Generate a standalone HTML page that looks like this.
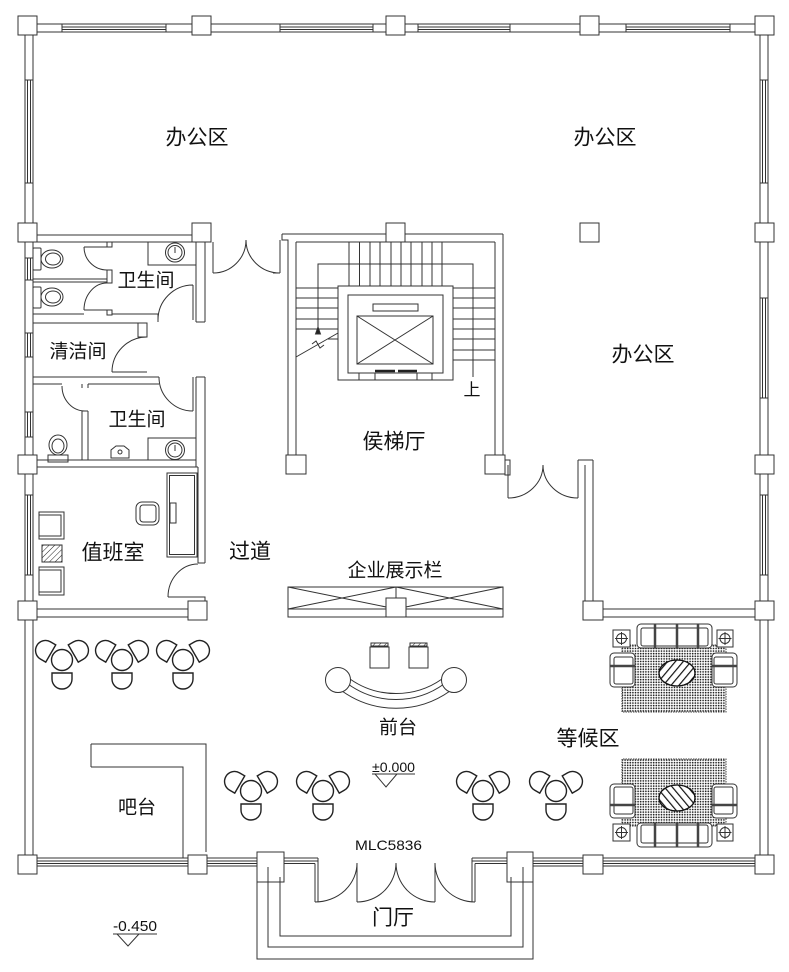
<!DOCTYPE html>
<html><head><meta charset="utf-8">
<style>
html,body{margin:0;padding:0;background:#fff;}
svg{display:block;}
text{font-family:"Liberation Sans","Noto Sans CJK SC",sans-serif;fill:#111;}
.cn{text-anchor:middle;dominant-baseline:central;}
</style></head><body>
<svg width="789" height="972" viewBox="0 0 789 972" xmlns="http://www.w3.org/2000/svg" xmlns:xlink="http://www.w3.org/1999/xlink">
<defs>
<pattern id="dots" width="2.6" height="2.6" patternUnits="userSpaceOnUse"><circle cx="1.1" cy="1.1" r="0.85" fill="#222"/></pattern>
<pattern id="hatch" width="6" height="6" patternUnits="userSpaceOnUse" patternTransform="rotate(40)"><line x1="0" y1="0" x2="0" y2="6" stroke="#111" stroke-width="2.4"/></pattern>
<pattern id="hatch2" width="4" height="4" patternUnits="userSpaceOnUse" patternTransform="rotate(45)"><line x1="0" y1="0" x2="0" y2="4" stroke="#222" stroke-width="1"/></pattern>
<g id="ch"><path d="M-10 13 H10 V19 A10 10 0 0 1 -10 19 Z" fill="#fff" stroke="#222" stroke-width="1.4"/></g>
<g id="grp">
 <use xlink:href="#ch" href="#ch"/>
 <use xlink:href="#ch" href="#ch" transform="rotate(120)"/>
 <use xlink:href="#ch" href="#ch" transform="rotate(-120)"/>
 <circle r="10.5" fill="#fff" stroke="#222" stroke-width="1.4"/>
</g>
<g id="sofa" fill="none" stroke="#333" stroke-width="1">
 <rect x="622" y="645" width="104" height="67" fill="url(#dots)" stroke="#444" stroke-dasharray="1.5 1"/>
 <rect x="637" y="624" width="75" height="24" rx="4" fill="#fff"/>
 <rect x="641" y="628" width="67" height="18" rx="2"/>
 <path d="M655 624V648M677 624V648M698 624V648" stroke="#444" stroke-width="2.5"/>
 <rect x="610" y="653" width="25" height="34" rx="4" fill="#fff"/>
 <rect x="614" y="657" width="19" height="27" rx="2"/>
 <path d="M610 666H635" stroke="#444" stroke-width="2.5"/>
 <rect x="712" y="653" width="25" height="34" rx="4" fill="#fff"/>
 <rect x="714" y="657" width="19" height="27" rx="2"/>
 <path d="M712 666H737" stroke="#444" stroke-width="2.5"/>
 <rect x="613" y="630" width="17" height="17" fill="#fff"/>
 <circle cx="621.5" cy="638.5" r="5"/><path d="M621.5 632V645M615 638.5H628"/>
 <rect x="717" y="630" width="16" height="17" fill="#fff"/>
 <circle cx="725" cy="638.5" r="5"/><path d="M725 632V645M718.5 638.5H731.5"/>
 <ellipse cx="677" cy="673" rx="18" ry="13" fill="#fff"/>
 <ellipse cx="677" cy="673" rx="18" ry="13" fill="url(#hatch)" stroke="#111" stroke-width="1.3"/>
</g>
</defs>

<g fill="none" stroke="#333" stroke-width="1">
<path d="M18 24H773M33 32H760"/>
<path d="M25 16V874M33 32V858M768 16V874M760 32V858"/>
<path d="M62 24V32M166 24V32M62 27H166M62 29.5H166"/>
<path d="M280 24V32M373 24V32M280 27H373M280 29.5H373"/>
<path d="M418 24V32M510 24V32M418 27H510M418 29.5H510"/>
<path d="M626 24V32M730 24V32M626 27H730M626 29.5H730"/>
<path d="M25 80H33M25 183H33M27.5 80V183M30.5 80V183"/>
<path d="M25 258H33M25 280H33M27.5 258V280M30.5 258V280"/>
<path d="M25 333H33M25 357H33M27.5 333V357M30.5 333V357"/>
<path d="M25 412H33M25 437H33M27.5 412V437M30.5 412V437"/>
<path d="M25 495H33M25 575H33M27.5 495V575M30.5 495V575"/>
<path d="M760 80H768M760 183H768M762.5 80V183M765.5 80V183"/>
<path d="M760 298H768M760 398H768M762.5 298V398M765.5 298V398"/>
<path d="M760 495H768M760 575H768M762.5 495V575M765.5 495V575"/>
<path d="M33 858H257M33 861H257M33 863.5H257M25 866H257"/>
<path d="M533 858H760M533 861H760M533 863.5H760M533 866H768"/>
<path d="M284 858H318M284 861H318M284 863.5H315M315 863.5V902M318 858V902"/>
<path d="M472 858H507M472 861H507M475 863.5H507M475 863.5V902M472 858V902"/>
<path d="M357 863V902M435 863V902"/>
<path d="M315 902A42 39 0 0 0 357 863"/>
<path d="M357 902A39 39 0 0 0 396 863"/>
<path d="M396 863A39 39 0 0 0 435 902"/>
<path d="M435 863A40 39 0 0 0 475 902"/>
<path d="M280 877V936H511V877"/>
<path d="M268 867V947H523V867"/>
<path d="M257 852V959H533V852"/>

<path d="M36 235H192M33 242H196"/>
<path d="M196 242V322M205 242V322M196 322H205"/>
<path d="M193 285V320M193 285A35 35 0 0 0 158 320"/>
<path d="M33 279H107M33 282H107"/>
<rect x="107" y="242" width="5" height="5"/>
<rect x="107" y="270" width="5" height="13"/>
<rect x="107" y="310" width="5" height="5"/>
<path d="M84 247H107M84 247A23 23 0 0 0 107 270"/>
<path d="M84 310H107M107 283A23 27 0 0 0 84 310"/>
<path d="M33 314H84M112 314H158V322"/>
<path d="M33 323H138"/>
<rect x="138" y="323" width="9" height="14"/>
<rect x="33" y="248" width="8" height="22" rx="1"/>
<ellipse cx="52" cy="259" rx="11" ry="9"/><ellipse cx="53" cy="259" rx="7.5" ry="6"/>
<rect x="33" y="287" width="8" height="21" rx="1"/>
<ellipse cx="52" cy="297" rx="11" ry="9"/><ellipse cx="53" cy="297" rx="7.5" ry="6"/>
<rect x="148" y="242" width="48" height="23"/>
<circle cx="175" cy="252.5" r="9.5"/><circle cx="175" cy="252.5" r="7"/><path d="M175 247V253"/>
<path d="M147 337A35 35 0 0 0 112 372M112 372H147"/>
<path d="M33 377H159M33 384H62M88 384H159"/>
<path d="M193 377V411M159 377A34 34 0 0 0 193 411"/>
<path d="M196 377V467M205 377V467M196 377H205"/>
<path d="M62 386A23 25 0 0 0 85 411M82 384V388M88 384V388"/>
<path d="M82 411V460M88 411V460M82 411H88"/>
<path d="M48 455H68V462H48Z"/>
<ellipse cx="58" cy="445" rx="9" ry="10"/><ellipse cx="58" cy="446" rx="6" ry="7"/>
<path d="M111 458V450L116 446H124L129 450V458Z"/><circle cx="120" cy="452" r="2"/>
<rect x="148" y="438" width="48" height="22"/>
<circle cx="175" cy="450" r="9.5"/><circle cx="175" cy="450" r="7"/><path d="M175 445V451"/>
<path d="M33 460H196M36 467H198"/>
<path d="M198 467V563M205 467V563M198 563H205"/>
<path d="M198 564A30 33 0 0 0 168 597M168 597H205V601"/>
<path d="M36 609H188M36 617H188"/>
<rect x="167" y="473" width="30" height="84"/>
<rect x="169.5" y="475.5" width="25" height="79"/>
<rect x="170" y="503" width="6" height="20"/>
<rect x="136" y="502" width="23" height="23" rx="6"/>
<rect x="140" y="505" width="16" height="17" rx="3"/>
<rect x="39" y="512" width="25" height="27"/><rect x="39" y="515" width="22" height="21"/>
<rect x="39" y="567" width="25" height="28"/><rect x="39" y="570" width="22" height="22"/>
<rect x="42" y="545" width="20" height="17" fill="url(#hatch2)"/>

<path d="M213 242V273M280 240V273M273 273H280"/>
<path d="M213 273A33 33 0 0 0 246 240"/>
<path d="M246 240A34 33 0 0 0 280 273"/>

<path d="M282 234H503M296 242H495"/>
<path d="M282 234V240H288V455M296 242V455"/>
<path d="M503 234V455M495 242V455"/>
<path d="M349 242V287M359.5 242V287M370 242V287M380 242V287M391 242V287M401 242V287M411 242V287M422 242V287M432 242V287M442 242V287"/>
<path d="M318 330V264H473V377"/>
<path d="M296 288H338M296 298H338M296 308H338M296 319H338M296 329H338M328 339H338"/>
<path d="M296 357L338 333"/>
<path d="M312 344L316 341L320 348L324 345"/>
<path d="M315.5 334L318 327L320.5 334Z" fill="#222"/>
<path d="M453 288H495M453 298H495M453 308H495M453 319H495M453 329H495M453 339H495M453 350H495M453 360H495"/>
<rect x="338" y="286" width="115" height="94" fill="#fff"/>
<rect x="348" y="295" width="95" height="78"/>
<rect x="357" y="316" width="76" height="48"/>
<path d="M357 316L433 364M433 316L357 364"/>
<rect x="373" y="304" width="45" height="7"/>
<rect x="359" y="373" width="16" height="7"/>
<rect x="417" y="373" width="15" height="7"/>
<path d="M375 371H395M398 371H417" stroke="#222" stroke-width="2.5"/>

<rect x="505" y="460" width="5" height="15"/>
<path d="M508 465V498M578 460V498M578 460H593M585 465V601M593 460V601"/>
<path d="M508 498A35 33 0 0 0 543 465"/>
<path d="M543 465A35 33 0 0 0 578 498"/>
<path d="M603 609H755M603 617H755"/>

<rect x="288" y="587" width="215" height="30"/>
<path d="M288 609H503M396 587V617"/>
<path d="M288 587L396 609M288 609L396 587M396 587L503 609M396 609L503 587"/>
<rect x="386" y="598" width="20" height="19" fill="#fff"/>

<rect x="370" y="647" width="19" height="21"/>
<rect x="371" y="643" width="17" height="3" fill="url(#hatch2)"/>
<rect x="409" y="647" width="19" height="21"/>
<rect x="410" y="643" width="17" height="3" fill="url(#hatch2)"/>
<path d="M342 691A93 93 0 0 0 450 691"/>
<path d="M350 679A80 80 0 0 0 442 679"/>
<path d="M348 684A82 82 0 0 0 444 684"/>
<circle cx="338" cy="680" r="12.5" fill="#fff"/>
<circle cx="454" cy="680" r="12.5" fill="#fff"/>

<path d="M91 744H206V852M91 767H183V858M91 744V767"/>

<path d="M372 774H415M375 774L397 774L386 787Z"/>
<path d="M113 934H157M117 934L139 934L128 946Z"/>
</g>

<g fill="#fff" stroke="#333" stroke-width="1">
<rect x="18" y="16" width="19" height="19"/><rect x="192" y="16" width="19" height="19"/>
<rect x="386" y="16" width="19" height="19"/><rect x="580" y="16" width="19" height="19"/>
<rect x="755" y="16" width="19" height="19"/>
<rect x="18" y="223" width="19" height="19"/><rect x="192" y="223" width="19" height="19"/>
<rect x="386" y="223" width="19" height="19"/><rect x="580" y="223" width="19" height="19"/>
<rect x="755" y="223" width="19" height="19"/>
<rect x="18" y="455" width="19" height="19"/><rect x="755" y="455" width="19" height="19"/>
<rect x="286" y="455" width="20" height="19"/><rect x="485" y="455" width="20" height="19"/>
<rect x="18" y="601" width="19" height="19"/><rect x="188" y="601" width="19" height="19"/>
<rect x="583" y="601" width="20" height="19"/><rect x="755" y="601" width="19" height="19"/>
<rect x="18" y="855" width="19" height="19"/><rect x="188" y="855" width="19" height="19"/>
<rect x="583" y="855" width="20" height="19"/><rect x="755" y="855" width="19" height="19"/>
<rect x="257" y="852" width="27" height="30"/><rect x="507" y="852" width="26" height="30"/>
</g>
<path d="M268 867V882M280 877V882M511 877V882M523 867V882" stroke="#333" fill="none"/>

<use xlink:href="#grp" href="#grp" transform="translate(62 660)"/>
<use xlink:href="#grp" href="#grp" transform="translate(122 660)"/>
<use xlink:href="#grp" href="#grp" transform="translate(183 660)"/>
<use xlink:href="#grp" href="#grp" transform="translate(251 791)"/>
<use xlink:href="#grp" href="#grp" transform="translate(323 791)"/>
<use xlink:href="#grp" href="#grp" transform="translate(483 791)"/>
<use xlink:href="#grp" href="#grp" transform="translate(556 791)"/>

<use xlink:href="#sofa" href="#sofa"/>
<use xlink:href="#sofa" href="#sofa" transform="matrix(1 0 0 -1 0 1471)"/>

<text class="cn" x="197" y="138" font-size="21">办公区</text>
<text class="cn" x="605" y="138" font-size="21">办公区</text>
<text class="cn" x="643" y="355" font-size="21">办公区</text>
<text class="cn" x="146" y="281" font-size="19">卫生间</text>
<text class="cn" x="78" y="352" font-size="19">清洁间</text>
<text class="cn" x="137" y="420" font-size="19">卫生间</text>
<text class="cn" x="394" y="442" font-size="21">侯梯厅</text>
<text class="cn" x="472" y="390" font-size="17">上</text>
<text class="cn" x="113" y="553" font-size="21">值班室</text>
<text class="cn" x="250" y="552" font-size="21">过道</text>
<text class="cn" x="395" y="571" font-size="19">企业展示栏</text>
<text class="cn" x="398" y="728" font-size="19">前台</text>
<text class="cn" x="588" y="739" font-size="21">等候区</text>
<text class="cn" x="137" y="808" font-size="19">吧台</text>
<text class="cn" x="393" y="918" font-size="21">门厅</text>
<text x="355" y="850" font-size="14" textLength="67" lengthAdjust="spacingAndGlyphs">MLC5836</text>
<text x="372" y="772" font-size="14" textLength="43" lengthAdjust="spacingAndGlyphs">±0.000</text>
<text x="113" y="931" font-size="15" textLength="44" lengthAdjust="spacingAndGlyphs">-0.450</text>
</svg>
</body></html>
